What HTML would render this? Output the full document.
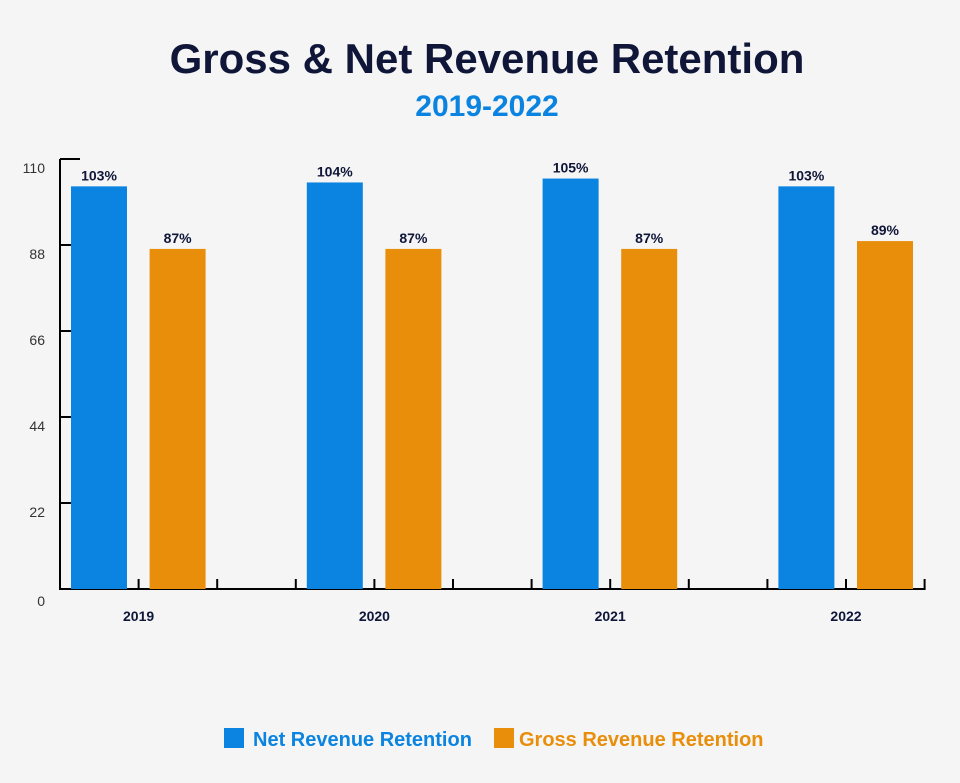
<!DOCTYPE html>
<html><head><meta charset="utf-8"><style>
body{margin:0;background:#f5f5f6;font-family:"Liberation Sans",sans-serif;}
#wrap{position:relative;width:960px;height:783px;overflow:hidden;background:#f5f5f6;}
</style></head><body>
<div id="wrap">
<svg id="chart" width="960" height="783">
  <text x="487" y="73" text-anchor="middle" font-size="42" font-weight="bold" fill="#0f1638">Gross &amp; Net Revenue Retention</text>
  <text x="487" y="116" text-anchor="middle" font-size="30" font-weight="bold" fill="#0a84e0">2019-2022</text>
  <g id="plot"></g>
  <rect x="224" y="728" width="20" height="20" fill="#0a84e0"/>
  <text x="253" y="746" font-size="20" font-weight="bold" fill="#0a84e0">Net Revenue Retention</text>
  <rect x="494" y="728" width="20" height="20" fill="#e88e0a"/>
  <text x="519" y="746" font-size="20" font-weight="bold" fill="#e88e0a">Gross Revenue Retention</text>
</svg>
</div>
<script>
const categories = ["2019","2020","2021","2022"];
const netValues = [103,104,105,103];
const grossValues = [87,87,87,89];
const yTicks = [0,22,44,66,88,110];

const NS="http://www.w3.org/2000/svg";
const g=document.getElementById('plot');
const x0=60, base=589, plotTop=159, yMax=110, slot=78.6;
function yScale(v){return base-(v/yMax)*(base-plotTop);}
function mk(tag,a){const e=document.createElementNS(NS,tag);for(const k in a)e.setAttribute(k,a[k]);g.appendChild(e);return e;}
const nSlots=categories.length*3-1;
const xEnd=x0+slot*nSlots;
let ax=mk('line',{x1:x0,y1:plotTop,x2:x0,y2:base+1,stroke:'#000','stroke-width':2});


let bx=mk('line',{x1:x0,y1:base,x2:xEnd+1,y2:base,stroke:'#000','stroke-width':2});


yTicks.forEach(t=>{
  const yy=yScale(t);
  if(t>0){const l=mk('line',{x1:x0,y1:yy,x2:x0+20,y2:yy,stroke:'#000','stroke-width':2});
  
  }
  const tx=mk('text',{x:45,y:yy+(t===0?17:14),'text-anchor':'end','font-size':14,fill:'#333'});
  tx.textContent=t;
  
  
});
for(let k=1;k<=nSlots;k++){
  const xx=x0+slot*k;
  const l=mk('line',{x1:xx,y1:base-10,x2:xx,y2:base,stroke:'#000','stroke-width':2});
  
  
}
categories.forEach((c,i)=>{
  const gs=x0+slot*3*i;
  const bw=56;
  const nx=gs+11, gx=gs+slot+11;
  [[nx,netValues[i],'#0a84e0','bar-net-'+c],[gx,grossValues[i],'#e88e0a','bar-gross-'+c]].forEach(([bxp,v,col,nm])=>{
    const r=mk('rect',{x:bxp,y:yScale(v),width:bw,height:base-yScale(v),fill:col});
    
    
    const t=mk('text',{x:bxp+bw/2,y:yScale(v)-6,'text-anchor':'middle','font-size':14,'font-weight':'bold',fill:'#0f1638'});
    t.textContent=v+'%';
    
    
  });
  const lt=mk('text',{x:gs+slot,y:621,'text-anchor':'middle','font-size':14,'font-weight':'bold',fill:'#0f1638'});
  lt.textContent=c;
  
  
});
</script>
</body></html>
